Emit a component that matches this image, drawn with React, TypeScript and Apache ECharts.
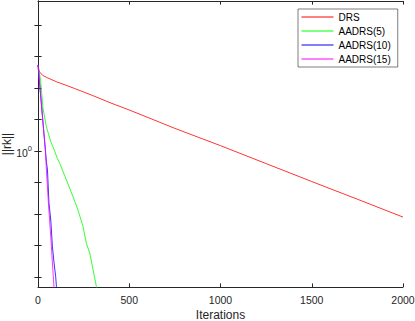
import React, { useEffect, useRef } from "react";
import * as echarts from "echarts";

// ---- data ----
const drsIter = [0, 5, 10, 25, 50, 100, 150, 200, 300, 400, 500, 750, 1000, 1250, 1500, 1750, 2000];
const drsVal = [1.875, 1.81, 1.78, 1.74, 1.71, 1.66, 1.62, 1.58, 1.5, 1.42, 1.35, 1.18, 1.04, 0.912, 0.8, 0.703, 0.617];

const aa5Iter = [0, 14, 27, 46, 70, 82, 106, 119, 156, 192, 219, 247, 265, 284, 302, 320, 335];
const aa5Val = [1.875, 1.68, 1.37, 1.194, 1.07, 1.032, 0.948, 0.914, 0.809, 0.716, 0.65, 0.575, 0.509, 0.473, 0.419, 0.371, 0.345];

const aa10Iter = [0, 10, 20, 30, 40, 46, 52, 60, 70, 79, 88, 97, 101, 106];
const aa10Val = [1.875, 1.61, 1.38, 1.18, 1.015, 0.925, 0.87, 0.684, 0.604, 0.497, 0.441, 0.399, 0.371, 0.355];

const aa15Iter = [0, 10, 20, 30, 40, 46, 57, 70, 79, 88, 92];
const aa15Val = [1.875, 1.61, 1.38, 1.18, 1.015, 0.87, 0.684, 0.534, 0.441, 0.367, 0.355];

const seriesNames = ["DRS", "AADRS(5)", "AADRS(10)", "AADRS(15)"];
const seriesColors = ["#ff0000", "#00ff00", "#0000ff", "#ff00ff"];

const xMin = 0;
const xMax = 2000;
const xInterval = 500;
const yMin = 0.37;
const yMax = 2.995;
const yTickExponents = [-0.4, -0.3, -0.2, -0.1, 0, 0.1, 0.2, 0.3, 0.4];
const yLabelValues = [1];

const pair = (xs: number[], ys: number[]) => xs.map((x, i) => [x, ys[i]]);

export default function App() {
  const ref = useRef<HTMLDivElement>(null);
  useEffect(() => {
    if (!ref.current) return;
    const chart = echarts.init(ref.current, null, { renderer: "svg" });
    const axisColor = "#262626";
    const font = "Liberation Sans, Arial, Helvetica, sans-serif";
    const yTicks = yTickExponents.map((e) => Math.pow(10, e));
    const datasets = [
      pair(drsIter, drsVal),
      pair(aa5Iter, aa5Val),
      pair(aa10Iter, aa10Val),
      pair(aa15Iter, aa15Val),
    ];
    const xBase = {
      type: "value",
      min: xMin,
      max: xMax,
      interval: xInterval,
      axisLine: { show: true, onZero: false, lineStyle: { color: axisColor, width: 1 } },
      axisTick: { show: true, inside: true, length: 3.6, lineStyle: { color: axisColor } },
      splitLine: { show: false },
    };
    const yBase = {
      type: "log",
      logBase: 10,
      min: yMin,
      max: yMax,
      axisLine: { show: true, lineStyle: { color: axisColor, width: 1 } },
      axisTick: {
        show: true,
        inside: true,
        length: 3.6,
        customValues: yTicks,
        lineStyle: { color: axisColor },
      },
      splitLine: { show: false },
      minorTick: { show: false },
    };
    chart.setOption({
      animation: false,
      backgroundColor: "#ffffff",
      textStyle: { fontFamily: font },
      grid: {
        left: 38,
        right: 12,
        top: 1,
        bottom: 34,
        containLabel: false,
        outerBoundsMode: "none",
      },
      xAxis: [
        {
          ...xBase,
          position: "bottom",
          name: "Iterations",
          nameLocation: "middle",
          nameGap: 22,
          nameMoveOverlap: false,
          nameTextStyle: { fontSize: 12, color: axisColor, fontFamily: font },
          axisLabel: {
            show: true,
            fontSize: 10.5,
            color: axisColor,
            margin: 7,
            fontFamily: font,
            formatter: (v: number) => String(v),
          },
        },
        {
          ...xBase,
          position: "top",
          axisLabel: { show: false },
        },
      ],
      yAxis: [
        {
          ...yBase,
          position: "left",
          name: "||rk||",
          nameLocation: "middle",
          nameGap: 25.5,
          nameMoveOverlap: false,
          nameTextStyle: { fontSize: 12, color: axisColor, fontFamily: font },
          axisLabel: {
            show: true,
            customValues: yLabelValues,
            margin: 6,
            color: axisColor,
            fontFamily: font,
            formatter: (v: number) => (Math.abs(v - 1) < 1e-9 ? "{b|10}{s|0}" : ""),
            rich: {
              b: { fontSize: 10.5, color: axisColor, fontFamily: font, lineHeight: 14, verticalAlign: "bottom" },
              s: { fontSize: 7.5, color: axisColor, fontFamily: font, lineHeight: 14, verticalAlign: "top" },
            },
          },
        },
        {
          ...yBase,
          position: "right",
          axisLabel: { show: false },
        },
      ],
      legend: {
        orient: "vertical",
        left: 298,
        top: 9,
        padding: [3, 7, 3, 3],
        itemWidth: 32,
        itemHeight: 10,
        itemGap: 4,
        backgroundColor: "#ffffff",
        borderColor: axisColor,
        borderWidth: 0.6,
        borderRadius: 0,
        itemStyle: { opacity: 0 },
        lineStyle: { width: 1 },
        textStyle: { fontSize: 10, lineHeight: 10, color: "#000000", fontFamily: font },
        data: seriesNames,
      },
      series: seriesNames.map((name, i) => ({
        name,
        type: "line",
        xAxisIndex: 0,
        yAxisIndex: 0,
        data: datasets[i],
        symbol: "none",
        showSymbol: false,
        clip: true,
        lineStyle: { color: seriesColors[i], width: 0.8 },
        itemStyle: { color: seriesColors[i] },
        z: 2 + i,
      })),
    });
    return () => chart.dispose();
  }, []);
  return (
    <div
      ref={ref}
      style={{ position: "fixed", left: 0, top: 0, width: 415, height: 321, background: "#fff" }}
    />
  );
}
